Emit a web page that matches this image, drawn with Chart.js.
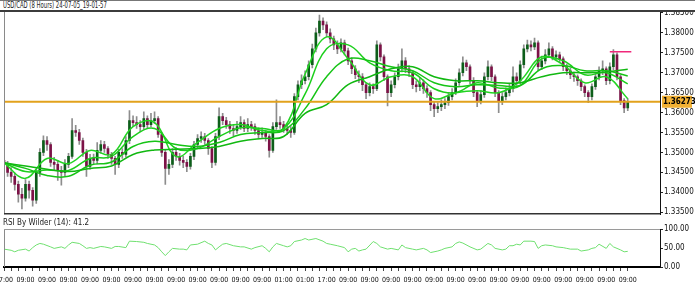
<!DOCTYPE html>
<html>
<head>
<meta charset="utf-8">
<script src="https://cdn.jsdelivr.net/npm/chart.js@4.4.1/dist/chart.umd.min.js"></script>
<style>
  body { margin: 0; background: #fff; width: 695px; height: 297px; overflow: hidden; position: relative;
         font-family: "DejaVu Sans Condensed", "DejaVu Sans", sans-serif; }
  #title { position: absolute; left: 0; top: 0; width: 695px; height: 12px; box-sizing: border-box;
           border-top: 1px solid #777; border-bottom: 2px solid #3c3c3c; background: #fff; z-index: 2; }
  #title span { position: absolute; left: 3px; top: 0; font-size: 8px; line-height: 9px; color: #222;
                white-space: nowrap; transform: scaleX(0.74); transform-origin: 0 0; }
  #rsiLabel { position: absolute; left: 3px; top: 218px; font-size: 8px; line-height: 10px; color: #222; z-index: 2; }
  canvas { position: absolute; left: 0; }
  #price { top: 0; }
  #rsi { top: 218px; }
</style>
</head>
<body>
<div id="title"><span>USD/CAD (8 Hours) 24-07-05_19-01-57</span></div>
<div id="rsiLabel">RSI By Wilder (14): 41.2</div>
<canvas id="price" width="695" height="220"></canvas>
<canvas id="rsi" width="695" height="79"></canvas>
<script>
// x axis labels, one every 6 bars
const xLabels = ["17:00", "09:00", "09:00", "09:00", "09:00", "09:00", "09:00", "09:00", "09:00", "09:00",
  "09:00", "09:00", "09:00", "01:00", "01:00", "17:00", "09:00", "09:00", "09:00", "09:00",
  "09:00", "09:00", "09:00", "09:00", "09:00", "09:00", "09:00", "09:00", "09:00", "09:00"];
const priceTicks = [1.335, 1.340, 1.345, 1.350, 1.355, 1.360, 1.365, 1.370, 1.375, 1.380, 1.385];
const rsiTicks = [0, 50, 100];
const rsiLevels = [30, 70];

// candles (8 hour bars), open of each bar = previous close
const firstOpen = 1.3480;
const closes = [
  1.3470, 1.3450, 1.3440, 1.3420, 1.3395, 1.3385, 1.3420, 1.3405, 1.3380, 1.3450,
  1.3500, 1.3530, 1.3520, 1.3475, 1.3470, 1.3455, 1.3450, 1.3470, 1.3490, 1.3555,
  1.3550, 1.3530, 1.3500, 1.3465, 1.3485, 1.3480, 1.3505, 1.3520, 1.3510, 1.3495,
  1.3485, 1.3470, 1.3500, 1.3495, 1.3530, 1.3580, 1.3575, 1.3570, 1.3565, 1.3585,
  1.3570, 1.3580, 1.3585, 1.3545, 1.3500, 1.3460, 1.3470, 1.3500, 1.3490, 1.3480,
  1.3475, 1.3465, 1.3490, 1.3520, 1.3535, 1.3540, 1.3530, 1.3510, 1.3475, 1.3540,
  1.3590, 1.3580, 1.3570, 1.3560, 1.3555, 1.3565, 1.3575, 1.3560, 1.3570, 1.3565,
  1.3555, 1.3545, 1.3550, 1.3540, 1.3505, 1.3565, 1.3575, 1.3570, 1.3560, 1.3555,
  1.3550, 1.3640, 1.3670, 1.3680, 1.3690, 1.3720, 1.3760, 1.3800, 1.3830, 1.3820,
  1.3800, 1.3785, 1.3770, 1.3760, 1.3775, 1.3755, 1.3730, 1.3710, 1.3695, 1.3690,
  1.3670, 1.3650, 1.3665, 1.3660, 1.3770, 1.3740, 1.3690, 1.3650, 1.3670, 1.3690,
  1.3710, 1.3730, 1.3710, 1.3700, 1.3670, 1.3665, 1.3675, 1.3660, 1.3650, 1.3620,
  1.3610, 1.3615, 1.3620, 1.3625, 1.3640, 1.3650, 1.3675, 1.3700, 1.3725, 1.3715,
  1.3680, 1.3650, 1.3630, 1.3645, 1.3690, 1.3715, 1.3690, 1.3650, 1.3630, 1.3640,
  1.3650, 1.3660, 1.3690, 1.3680, 1.3720, 1.3760, 1.3770, 1.3765, 1.3775, 1.3715,
  1.3730, 1.3745, 1.3760, 1.3740, 1.3745, 1.3735, 1.3715, 1.3705, 1.3695, 1.3690,
  1.3680, 1.3665, 1.3650, 1.3640, 1.3665, 1.3690, 1.3705, 1.3710, 1.3680, 1.3715,
  1.3745, 1.3690, 1.3630, 1.3612, 1.36273];
const highs = [
  1.3490, 1.3478, 1.3462, 1.3448, 1.3428, 1.3410, 1.3432, 1.3428, 1.3412, 1.3458,
  1.3510, 1.3542, 1.3540, 1.3525, 1.3488, 1.3480, 1.3465, 1.3482, 1.3498, 1.3585,
  1.3568, 1.3558, 1.3536, 1.3508, 1.3495, 1.3496, 1.3525, 1.3530, 1.3528, 1.3515,
  1.3500, 1.3490, 1.3508, 1.3510, 1.3540, 1.3605, 1.3592, 1.3590, 1.3580, 1.3602,
  1.3592, 1.3598, 1.3602, 1.3590, 1.3550, 1.3505, 1.3482, 1.3510, 1.3512, 1.3498,
  1.3490, 1.3482, 1.3498, 1.3528, 1.3545, 1.3552, 1.3548, 1.3535, 1.3515, 1.3548,
  1.3612, 1.3598, 1.3588, 1.3578, 1.3568, 1.3578, 1.3590, 1.3582, 1.3585, 1.3578,
  1.3572, 1.3562, 1.3562, 1.3556, 1.3545, 1.3575, 1.3632, 1.3590, 1.3578, 1.3572,
  1.3565, 1.3648, 1.3680, 1.3695, 1.3705, 1.3730, 1.3772, 1.3812, 1.3845, 1.3838,
  1.3828, 1.3810, 1.3792, 1.3780, 1.3785, 1.3782, 1.3762, 1.3738, 1.3718, 1.3705,
  1.3698, 1.3675, 1.3675, 1.3672, 1.3780, 1.3775, 1.3745, 1.3695, 1.3680, 1.3700,
  1.3722, 1.3760, 1.3738, 1.3718, 1.3705, 1.3680, 1.3688, 1.3682, 1.3668, 1.3655,
  1.3628, 1.3625, 1.3632, 1.3635, 1.3650, 1.3660, 1.3685, 1.3710, 1.3740, 1.3732,
  1.3720, 1.3688, 1.3655, 1.3655, 1.3700, 1.3730, 1.3720, 1.3695, 1.3655, 1.3650,
  1.3662, 1.3672, 1.3715, 1.3700, 1.3730, 1.3770, 1.3782, 1.3780, 1.3787, 1.3780,
  1.3742, 1.3758, 1.3775, 1.3766, 1.3755, 1.3752, 1.3740, 1.3722, 1.3712, 1.3702,
  1.3695, 1.3685, 1.3670, 1.3655, 1.3672, 1.3698, 1.3715, 1.3730, 1.3715, 1.3725,
  1.3758, 1.3750, 1.3695, 1.3635, 1.3635];
const lows = [
  1.3455, 1.3440, 1.3425, 1.3405, 1.3375, 1.3358, 1.3378, 1.3385, 1.3365, 1.3372,
  1.3440, 1.3492, 1.3505, 1.3465, 1.3455, 1.3430, 1.3418, 1.3442, 1.3462, 1.3485,
  1.3540, 1.3520, 1.3490, 1.3440, 1.3458, 1.3470, 1.3472, 1.3498, 1.3500, 1.3485,
  1.3470, 1.3445, 1.3462, 1.3485, 1.3488, 1.3522, 1.3565, 1.3560, 1.3552, 1.3558,
  1.3560, 1.3565, 1.3572, 1.3538, 1.3490, 1.3420, 1.3445, 1.3462, 1.3480, 1.3468,
  1.3462, 1.3452, 1.3458, 1.3482, 1.3512, 1.3525, 1.3520, 1.3495, 1.3462, 1.3468,
  1.3532, 1.3570, 1.3560, 1.3548, 1.3542, 1.3548, 1.3558, 1.3552, 1.3552, 1.3555,
  1.3545, 1.3535, 1.3538, 1.3528, 1.3488, 1.3500, 1.3558, 1.3560, 1.3550, 1.3545,
  1.3538, 1.3545, 1.3632, 1.3660, 1.3672, 1.3682, 1.3712, 1.3752, 1.3792, 1.3808,
  1.3790, 1.3775, 1.3758, 1.3748, 1.3752, 1.3745, 1.3720, 1.3698, 1.3685, 1.3675,
  1.3655, 1.3635, 1.3642, 1.3648, 1.3655, 1.3730, 1.3680, 1.3617, 1.3640, 1.3662,
  1.3682, 1.3702, 1.3700, 1.3690, 1.3660, 1.3652, 1.3655, 1.3648, 1.3638, 1.3605,
  1.3590, 1.3600, 1.3605, 1.3610, 1.3618, 1.3632, 1.3645, 1.3668, 1.3692, 1.3705,
  1.3672, 1.3640, 1.3615, 1.3622, 1.3638, 1.3682, 1.3680, 1.3640, 1.3600, 1.3620,
  1.3632, 1.3642, 1.3652, 1.3668, 1.3672, 1.3712, 1.3752, 1.3755, 1.3758, 1.3705,
  1.3708, 1.3722, 1.3738, 1.3732, 1.3732, 1.3725, 1.3705, 1.3695, 1.3685, 1.3678,
  1.3668, 1.3655, 1.3640, 1.3625, 1.3632, 1.3658, 1.3682, 1.3695, 1.3670, 1.3672,
  1.3708, 1.3682, 1.3620, 1.3600, 1.3605];

// moving averages read every 6 bars
const maBars = [0, 6, 12, 18, 24, 30, 36, 42, 48, 54, 60, 66, 72, 78, 84, 90, 96, 102, 108, 114,
  120, 126, 132, 138, 144, 150, 156, 162, 168, 174];
const maFast = [1.3474, 1.3435, 1.3485, 1.3472, 1.3505, 1.3495, 1.3565, 1.3575, 1.3490, 1.3525,
  1.3560, 1.3570, 1.3555, 1.3560, 1.3697, 1.3790, 1.3735, 1.3670, 1.3690, 1.3690,
  1.3635, 1.3650, 1.3655, 1.3650, 1.3680, 1.3740, 1.3720, 1.3675, 1.3690, 1.3635];
const maMid = [1.3474, 1.3452, 1.3456, 1.3455, 1.3485, 1.3490, 1.3540, 1.3560, 1.3510, 1.3510,
  1.3540, 1.3562, 1.3560, 1.3560, 1.3647, 1.3760, 1.3770, 1.3725, 1.3705, 1.3700,
  1.3660, 1.3650, 1.3675, 1.3662, 1.3668, 1.3735, 1.3730, 1.3695, 1.3700, 1.3672];
const maSlow = [1.3474, 1.3460, 1.3442, 1.3440, 1.3468, 1.3476, 1.3515, 1.3528, 1.3520, 1.3515,
  1.3525, 1.3545, 1.3550, 1.3555, 1.3610, 1.3690, 1.3735, 1.3730, 1.3715, 1.3705,
  1.3675, 1.3665, 1.3670, 1.3668, 1.3668, 1.3710, 1.3718, 1.3705, 1.3705, 1.3692];
const maLong = [1.3474, 1.3466, 1.3458, 1.3452, 1.3460, 1.3466, 1.3495, 1.3506, 1.3508, 1.3510,
  1.3515, 1.3528, 1.3535, 1.3540, 1.3598, 1.3620, 1.3670, 1.3690, 1.3710, 1.3715,
  1.3690, 1.3680, 1.3680, 1.3675, 1.3675, 1.3690, 1.3700, 1.3700, 1.3702, 1.3709];

// short pink level at the right end
const pinkLevel = 1.3753;
const pinkBars = [169, 175];

// RSI (Wilder, 14)
const rsiBars = [0, 2, 3, 4, 6, 7, 8, 9, 10, 11, 13, 14, 16, 17, 18, 19, 21, 22, 23, 24,
  25, 27, 28, 30, 31, 32, 34, 35, 37, 39, 40, 42, 43, 44, 45, 46, 47, 49, 50, 51,
  52, 54, 56, 57, 58, 59, 60, 61, 62, 64, 66, 67, 69, 70, 72, 73, 74, 75, 76, 78,
  79, 80, 81, 83, 84, 85, 87, 89, 90, 91, 93, 95, 96, 97, 98, 99, 100, 101, 103, 104,
  105, 107, 108, 110, 111, 112, 114, 115, 117, 118, 119, 121, 122, 123, 125, 126, 127, 128, 130, 132,
  133, 135, 136, 137, 139, 140, 141, 142, 143, 144, 145, 147, 148, 149, 150, 151, 153, 154, 156, 157,
  158, 160, 161, 163, 164, 165, 166, 168, 169, 170, 172, 173, 174];
const rsiValues = [47, 44, 40, 44, 47, 42, 51, 58, 62, 60, 53, 49, 53, 49, 58, 65, 62, 56, 49, 51,
  49, 54, 53, 49, 54, 54, 51, 68, 67, 65, 62, 58, 51, 40, 30, 40, 49, 47, 47, 45,
  58, 60, 68, 62, 58, 45, 53, 60, 62, 56, 53, 53, 47, 51, 56, 49, 40, 53, 62, 56,
  53, 56, 67, 71, 75, 71, 75, 68, 62, 60, 56, 51, 40, 47, 49, 42, 45, 47, 67, 62,
  53, 47, 49, 45, 58, 51, 47, 45, 49, 45, 38, 42, 45, 49, 53, 62, 66, 63, 53, 45,
  47, 62, 58, 49, 45, 47, 56, 56, 60, 58, 68, 68, 67, 49, 56, 58, 56, 53, 51, 49,
  47, 47, 42, 45, 49, 51, 60, 49, 62, 53, 45, 40, 41.2];

const lastPrice = closes[closes.length - 1];
const xMin = 0, xMax = 183;
const fontFamily = '"DejaVu Sans Condensed", "DejaVu Sans", sans-serif';
Chart.defaults.font.family = fontFamily;
Chart.defaults.font.size = 8;
Chart.defaults.color = '#111';

const opens = closes.map((c, i) => i === 0 ? firstOpen : closes[i - 1]);
const bodies = closes.map((c, i) => ({ x: i, y: [opens[i], c] }));
const wicks = closes.map((c, i) => ({ x: i, y: [lows[i], highs[i]] }));
const bodyColors = closes.map((c, i) => c >= opens[i] ? '#0d5e1a' : '#7c1247');
const toPoints = vals => vals.map((v, i) => ({ x: maBars[i], y: v }));

const framePlugin = {
  id: 'frame',
  afterDraw(chart, args, opts) {
    const { ctx, chartArea: a } = chart;
    ctx.save();
    (opts.lines || []).forEach(l => {
      ctx.strokeStyle = l.color;
      ctx.lineWidth = l.width;
      ctx.beginPath();
      if (l.side === 'left') { ctx.moveTo(a.left + 0.5, a.top); ctx.lineTo(a.left + 0.5, a.bottom); }
      if (l.side === 'top') { ctx.moveTo(a.left, a.top + 0.5); ctx.lineTo(a.right, a.top + 0.5); }
      if (l.side === 'bottom') { ctx.moveTo(a.left, a.bottom - 0.5); ctx.lineTo(a.right, a.bottom - 0.5); }
      ctx.stroke();
    });
    ctx.restore();
  }
};

const priceTag = {
  id: 'priceTag',
  afterDraw(chart) {
    const y = chart.scales.y.getPixelForValue(lastPrice);
    const a = chart.chartArea;
    const ctx = chart.ctx;
    ctx.save();
    ctx.fillStyle = '#f2b134';
    ctx.fillRect(a.right + 2, y - 6, 30, 12);
    ctx.fillStyle = '#000';
    ctx.font = 'bold 8px ' + fontFamily;
    ctx.textBaseline = 'middle';
    ctx.fillText(lastPrice.toFixed(5), a.right + 3, y + 0.5);
    ctx.restore();
  }
};

const maLine = (data, color) => ({
  type: 'line', data: toPoints(data), borderColor: color, borderWidth: 1.5,
  pointRadius: 0, tension: 0.4, order: -1
});

new Chart(document.getElementById('price'), {
  type: 'bar',
  data: {
    datasets: [
      { data: wicks, backgroundColor: '#8d8d8d', barThickness: 1, grouped: false, order: 3 },
      { data: bodies, backgroundColor: bodyColors, barThickness: 2, minBarLength: 1, grouped: false, order: 2 },
      maLine(maLong, '#11b811'),
      maLine(maSlow, '#16c416'),
      maLine(maMid, '#1ccf1c'),
      maLine(maFast, '#22d422'),
      { type: 'line', data: [{ x: xMin, y: lastPrice }, { x: xMax, y: lastPrice }],
        borderColor: '#e2a21c', borderWidth: 2, pointRadius: 0, order: -2 },
      { type: 'line', data: pinkBars.map(b => ({ x: b, y: pinkLevel })),
        borderColor: '#f0287a', borderWidth: 1.5, pointRadius: 0, order: -2 }
    ]
  },
  options: {
    responsive: false,
    animation: false,
    devicePixelRatio: 1,
    layout: { padding: { left: 4, top: 12, right: 0, bottom: 3 } },
    plugins: {
      legend: { display: false },
      tooltip: { enabled: false },
      frame: { lines: [
        { side: 'left', color: '#8a8a8a', width: 1 },
        { side: 'bottom', color: '#333', width: 1.5 }
      ] }
    },
    scales: {
      x: { type: 'linear', min: xMin, max: xMax, display: false, offset: false },
      y: {
        position: 'right', min: 1.3345, max: 1.38525,
        afterBuildTicks: s => { s.ticks = priceTicks.map(v => ({ value: v })); },
        afterFit: s => { s.width = 35; },
        grid: { drawOnChartArea: false, tickLength: 3, tickColor: '#222' },
        border: { display: true, color: '#111', width: 1 },
        ticks: { padding: 1, callback: v => v.toFixed(5) }
      }
    }
  },
  plugins: [framePlugin, priceTag]
});

new Chart(document.getElementById('rsi'), {
  type: 'line',
  data: {
    datasets: [{
      data: rsiValues.map((v, i) => ({ x: rsiBars[i], y: v })),
      borderColor: '#6fe06f', borderWidth: 1, pointRadius: 0, tension: 0
    }]
  },
  options: {
    responsive: false,
    animation: false,
    devicePixelRatio: 1,
    layout: { padding: { left: 4, top: 11, right: 0, bottom: 0 } },
    plugins: {
      legend: { display: false },
      tooltip: { enabled: false },
      frame: { lines: [
        { side: 'left', color: '#8a8a8a', width: 1 },
        { side: 'top', color: '#9a9a9a', width: 1 }
      ] }
    },
    scales: {
      x: {
        type: 'linear', min: xMin, max: xMax, offset: false,
        afterBuildTicks: s => {
          const t = [];
          for (let i = 0; i <= xLabels.length * 6 - 6; i += 2) t.push({ value: i });
          s.ticks = t;
        },
        afterFit: s => { s.height = 30; s.paddingLeft = 0; s.paddingRight = 0; },
        grid: { drawOnChartArea: false, tickLength: 4, tickColor: '#444' },
        border: { display: true, color: '#000', width: 2 },
        ticks: {
          autoSkip: false, maxRotation: 0, padding: 5, font: { size: 7 },
          callback: v => v % 6 === 0 ? xLabels[v / 6] : ''
        }
      },
      y: {
        position: 'right', min: 0, max: 100,
        afterBuildTicks: s => { s.ticks = rsiTicks.concat(rsiLevels).sort((a, b) => a - b).map(v => ({ value: v })); },
        afterFit: s => { s.width = 35; },
        grid: {
          tickLength: 3,
          color: c => rsiLevels.includes(c.tick.value) ? '#d0d0d0' : 'rgba(0,0,0,0)',
          tickColor: c => rsiTicks.includes(c.tick.value) ? '#222' : 'rgba(0,0,0,0)'
        },
        border: { display: true, color: '#111', width: 1 },
        ticks: { padding: 1, callback: v => rsiTicks.includes(v) ? v.toFixed(2) : '' }
      }
    }
  },
  plugins: [framePlugin]
});
</script>
</body>
</html>
